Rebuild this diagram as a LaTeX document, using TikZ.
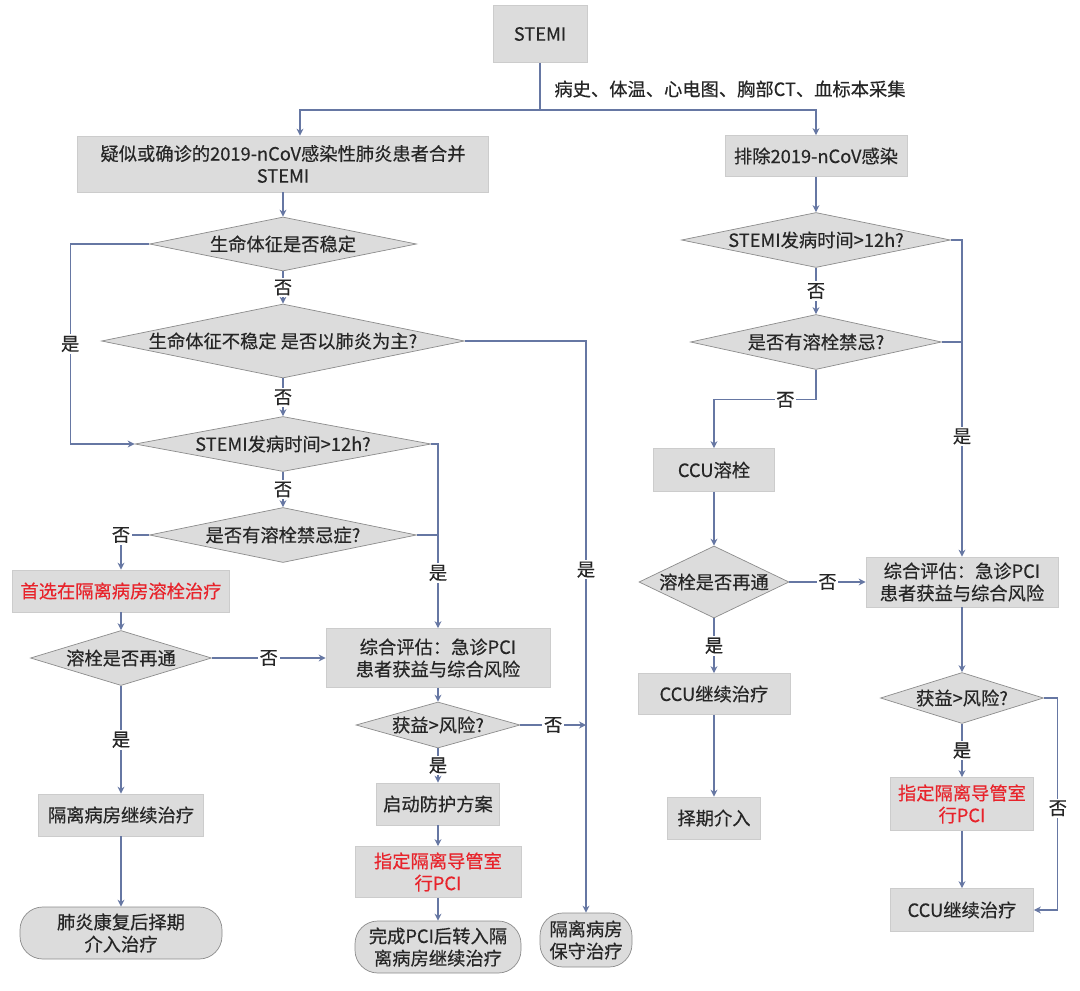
\documentclass[tikz,border=0pt]{standalone}
\usepackage{fontspec}
\setmainfont{Noto Sans CJK SC}[FakeBold=0.4]
\usetikzlibrary{arrows.meta}
\usetikzlibrary{shapes.geometric}
\definecolor{boxgray}{HTML}{DCDCDC}
\definecolor{rimgray}{HTML}{CCCCCC}
\definecolor{diagray}{HTML}{8C8C8C}
\definecolor{flowline}{HTML}{6677A3}
\definecolor{alertred}{HTML}{E8232B}
\definecolor{inkgray}{HTML}{262626}
\newcommand{\pxu}{0.02cm}
\newcommand{\fsize}{\fontsize{10.4}{12.6}\selectfont}

\begin{document}
\begin{tikzpicture}[x=\pxu,y=-\pxu]
                \fill[white] (0,0) rectangle (1080,991);
                \useasboundingbox (0,0) rectangle (1080,991);

                \begin{scope}[every node/.style={rectangle,fill=boxgray,draw=rimgray,text=inkgray,
                    align=center,inner sep=1pt,font=\fsize}]
                    \node[minimum width=94*\pxu,minimum height=57*\pxu] (stemi) at (540,34) {STEMI};
                    \node[minimum width=411*\pxu,minimum height=56*\pxu] (ncov) at (283,164) {疑似或确诊的2019-nCoV感染性肺炎患者合并\\STEMI};
                    \node[minimum width=182*\pxu,minimum height=41*\pxu] (paichu) at (816,156) {排除2019-nCoV感染};
                    \node[minimum width=217*\pxu,minimum height=42*\pxu,text=alertred] (shou) at (121,591) {首选在隔离病房溶栓治疗};
                    \node[minimum width=224*\pxu,minimum height=59*\pxu] (zhping) at (438,658) {综合评估：急诊PCI\\患者获益与综合风险};
                    \node[minimum width=165*\pxu,minimum height=42*\pxu] (jixu) at (121,815) {隔离病房继续治疗};
                    \node[minimum width=123*\pxu,minimum height=42*\pxu] (qidong) at (438,804) {启动防护方案};
                    \node[minimum width=166*\pxu,minimum height=51*\pxu,text=alertred] (zhiding) at (438,872) {指定隔离导管室\\行PCI};
                    \node[minimum width=121*\pxu,minimum height=43*\pxu] (ccurong) at (714,470) {CCU溶栓};
                    \node[minimum width=192*\pxu,minimum height=50*\pxu] (zhpingR) at (962,582) {综合评估：急诊PCI\\患者获益与综合风险};
                    \node[minimum width=152*\pxu,minimum height=41*\pxu] (ccujixu) at (714,694) {CCU继续治疗};
                    \node[minimum width=93*\pxu,minimum height=42*\pxu] (zeqi) at (714,818) {择期介入};
                    \node[minimum width=143*\pxu,minimum height=53*\pxu,text=alertred] (zhidingR) at (962,804) {指定隔离导管室\\行PCI};
                    \node[minimum width=143*\pxu,minimum height=43*\pxu] (ccuR) at (962,910) {CCU继续治疗};
                \end{scope}

                \begin{scope}[every node/.style={diamond,fill=boxgray,draw=diagray,text=inkgray,
                    inner sep=0pt,font=\fsize}]
                    \node[aspect=4.9,minimum width=267*\pxu,minimum height=54*\pxu] (d1) at (283,244) {生命体征是否稳定};
                    \node[aspect=4.9,minimum width=363*\pxu,minimum height=74*\pxu] (d2) at (283,341) {生命体征不稳定 是否以肺炎为主?};
                    \node[aspect=5.4,minimum width=296*\pxu,minimum height=55*\pxu] (d3) at (283,444) {STEMI发病时间>12h?};
                    \node[aspect=4.85,minimum width=267*\pxu,minimum height=55*\pxu] (d4) at (283,535) {是否有溶栓禁忌症?};
                    \node[aspect=3.3,minimum width=181*\pxu,minimum height=55*\pxu] (d5) at (121,658) {溶栓是否再通};
                    \node[aspect=3.56,minimum width=164*\pxu,minimum height=46*\pxu] (d6) at (438,725) {获益>风险?};
                    \node[aspect=4.9,minimum width=269*\pxu,minimum height=55*\pxu] (d7) at (816,240) {STEMI发病时间>12h?};
                    \node[aspect=4.56,minimum width=251*\pxu,minimum height=55*\pxu] (d8) at (816,342) {是否有溶栓禁忌?};
                    \node[aspect=2.08,minimum width=150*\pxu,minimum height=72*\pxu] (d9) at (714,582) {溶栓是否再通};
                    \node[aspect=3.2,minimum width=163*\pxu,minimum height=51*\pxu] (d10) at (962,698) {获益>风险?};
                \end{scope}

                \begin{scope}[every node/.style={rectangle,rounded corners=13pt,fill=boxgray,draw=diagray,
                    text=inkgray,align=center,inner sep=1pt,font=\fsize}]
                    \node[minimum width=202*\pxu,minimum height=52*\pxu] (pneu) at (121,933) {肺炎康复后择期\\介入治疗};
                    \node[minimum width=166*\pxu,minimum height=52*\pxu] (wancheng) at (438,947) {完成PCI后转入隔\\离病房继续治疗};
                    \node[minimum width=92*\pxu,minimum height=54*\pxu] (baoshou) at (586,940) {隔离病房\\保守治疗};
                \end{scope}

                \begin{scope}[>={Stealth[length=4pt,width=4pt]},
                    flow/.style={draw=flowline,line width=0.7pt},
                    every edge/.style={flow},
                    every node/.style={fill=white,inner sep=1pt,text=inkgray,font=\fsize}]
                    \node (collect) at (730,89) {病史、体温、心电图、胸部CT、血标本采集};
                    \coordinate (split) at (540,110);

                    \draw [flow] (stemi) -- (split);
                    \draw [flow,->] (split) -| ([xshift=17*\pxu]ncov.north);
                    \draw [flow,->] (split) -| (paichu.north);

                    \path [->] (ncov) edge (d1);
                    \path [->] (d1) edge node {否} (d2);
                    \path [->] (d2) edge node {否} (d3);
                    \path [->] (d3) edge node {否} (d4);
                    \draw [flow,->] (d1.west) -- ++(-79,0) |- node[pos=0.25] {是} (d3.west);
                    \draw [flow,->] (d2.east) -| node[pos=0.7] {是} (baoshou.north);
                    \draw [flow,->] (d3.east) -| node[pos=0.85] {是} (zhping.north);
                    \draw [flow] (d4.east) -- (d4.east -| zhping.north);
                    \draw [flow,->] (d4.west) -| node[pos=0.5] {否} (shou.north);

                    \path [->] (shou) edge (d5);
                    \path [->] (d5) edge node {否} (zhping);
                    \path [->] (d5) edge node {是} (jixu);
                    \path [->] (jixu) edge (pneu);

                    \path [->] (zhping) edge (d6);
                    \path [->] (d6) edge node {是} (qidong);
                    \path [->] (qidong) edge (zhiding);
                    \path [->] (zhiding) edge (wancheng);
                    \draw [flow,->] (d6.east) -- node {否} (d6.east -| baoshou.north);

                    \path [->] (paichu) edge (d7);
                    \path [->] (d7) edge node {否} (d8);
                    \draw [flow,->] (d7.east) -| node[pos=0.81] {是} (zhpingR.north);
                    \draw [flow] (d8.east) -- (d8.east -| zhpingR.north);
                    \draw [flow,->] (d8.south) -- ++(0,30) -| node[pos=0.15] {否} (ccurong.north);

                    \path [->] (ccurong) edge (d9);
                    \path [->] (d9) edge node {否} (zhpingR);
                    \path [->] (d9) edge node {是} (ccujixu);
                    \path [->] (ccujixu) edge (zeqi);

                    \path [->] (zhpingR) edge (d10);
                    \path [->] (d10) edge node {是} (zhidingR);
                    \path [->] (zhidingR) edge (ccuR);
                    \draw [flow,->] (d10.east) -- ++(14,0) |- node[pos=0.26] {否} (ccuR.east);
                \end{scope}
            \end{tikzpicture}
\end{document}
